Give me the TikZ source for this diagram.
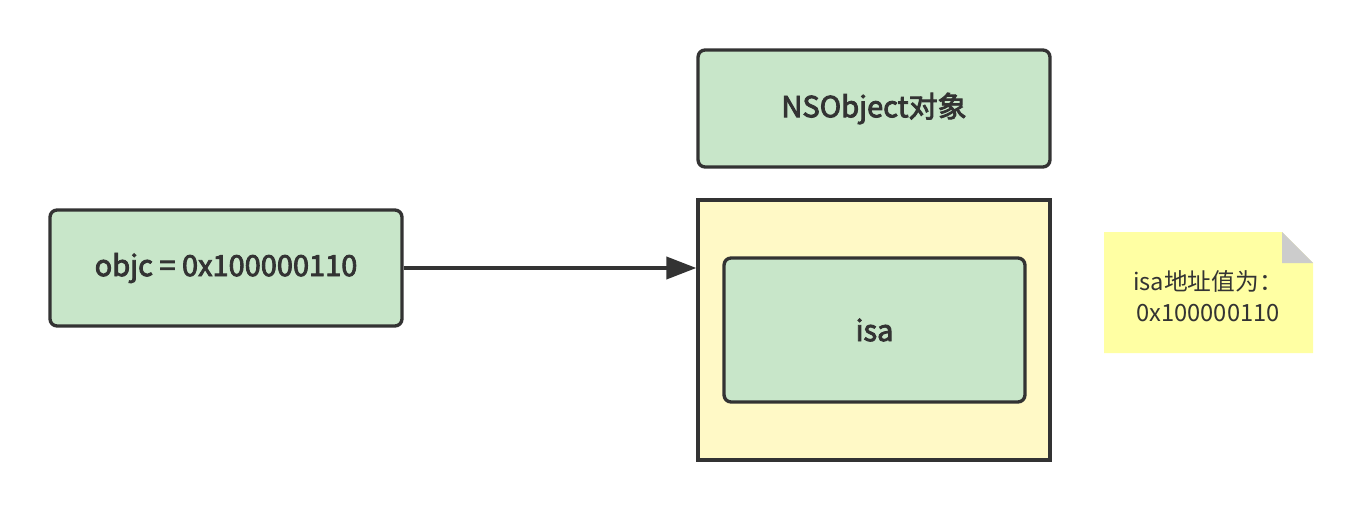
\documentclass[tikz,border=0pt]{standalone}
\usepackage{fontspec}
\setmainfont{Noto Sans CJK SC}
\newfontfamily\labelfont[FakeBold=3]{Noto Sans CJK SC}
\usepackage{tikz}
\usetikzlibrary{arrows.meta}
\definecolor{ink}{HTML}{333333}
\definecolor{boxgreen}{HTML}{C8E6C9}
\definecolor{boxyellow}{HTML}{FFF9C6}
\definecolor{noteyellow}{HTML}{FFFFA3}
\definecolor{foldgray}{HTML}{CCCCCC}
\begin{document}
\begin{tikzpicture}[x=0.02cm,y=-0.02cm,
    greenbox/.style={draw=ink,line width=1.9pt,fill=boxgreen,rounded corners=4pt,
      text=ink,font=\fontsize{16.5}{19}\labelfont},
    holder/.style={draw=ink,line width=1.9pt,fill=boxyellow},
    link/.style={draw=ink,line width=2.2pt,-{Triangle[length=0.6cm,width=0.44cm]}}]
    \useasboundingbox (0,0) rectangle (1364,510);
    \node[greenbox,minimum width=7.04cm,minimum height=2.32cm] (objc) at (226,268) {objc = 0x100000110};
    \node[greenbox,minimum width=7.04cm,minimum height=2.34cm] (nsobj) at (874,108.5) {NSObject对象};
    \node[holder,minimum width=7.04cm,minimum height=5.2cm] (body) at (874,330) {};
    \node[greenbox,minimum width=6.02cm,minimum height=2.88cm] (isa) at (874.5,330) {isa};
    \draw[link] (objc.east) -- (body.west |- objc.east);
    \fill[noteyellow] (1104,232) -- (1282,232) -- (1313,263) -- (1313,353) -- (1104,353) -- cycle;
    \fill[foldgray] (1282,232) -- (1282,263) -- (1313,263) -- cycle;
    \node[text=ink,align=center,font=\fontsize{13.5}{17.6}\selectfont] (note) at (1208,296) {isa地址值为：\\0x100000110};
  \end{tikzpicture}
\end{document}
